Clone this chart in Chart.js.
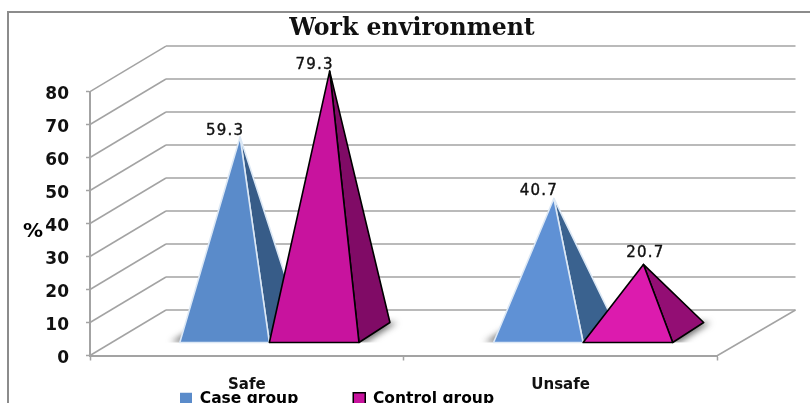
<!DOCTYPE html>
<html>
<head>
<meta charset="utf-8">
<title>Work environment</title>
<script src="https://cdn.jsdelivr.net/npm/chart.js"></script>
<style>
body { margin: 0; background: #fff; overflow: hidden; }
canvas { display: block; }
</style>
</head>
<body>
<canvas id="workChart" width="810" height="403"></canvas>
<script>
const categories = ['Safe', 'Unsafe'];
const seriesNames = ['Case group', 'Control group'];
const caseValues = [59.3, 40.7];
const controlValues = [79.3, 20.7];
const yTicks = [0, 10, 20, 30, 40, 50, 60, 70, 80];

const caseFront = ['#5a8bca', '#5f91d5'];
const caseSide = ['#375c88', '#3a628f'];
const controlFront = ['#c8139e', '#dc1bae'];
const controlSide = ['#800b66', '#930e74'];

// 3d box of the plot, in px from the front plane
const wallX = 76;
const wallY = 45.5;
const gridColor = '#a3a3a3';

function line(ctx, x1, y1, x2, y2) {
    ctx.beginPath();
    ctx.moveTo(x1, y1);
    ctx.lineTo(x2, y2);
    ctx.stroke();
}

function poly(ctx, pts, fill, stroke, width) {
    ctx.beginPath();
    ctx.moveTo(pts[0][0], pts[0][1]);
    for (let i = 1; i < pts.length; i++) {
        ctx.lineTo(pts[i][0], pts[i][1]);
    }
    ctx.closePath();
    ctx.fillStyle = fill;
    ctx.fill();
    if (width > 0) {
        ctx.lineJoin = 'round';
        ctx.strokeStyle = stroke;
        ctx.lineWidth = width;
        ctx.stroke();
    }
}

// the frame and the back walls
const wallsPlugin = {
    id: 'walls',
    beforeDraw(chart) {
        // title and legend do not sit centred on the canvas in the original
        chart.titleBlock.left = 7;
        chart.titleBlock.right = 817;
        chart.legend.left = 0;
        chart.legend.right = 674;
        chart.legend.top = 391 - 55;
    },
    beforeDatasetsDraw(chart) {
        let ctx = chart.ctx;
        let x = chart.scales.x;
        let y = chart.scales.y;

        ctx.save();
        ctx.strokeStyle = '#8c8c8c';
        ctx.lineWidth = 2;
        ctx.beginPath();
        ctx.moveTo(8, 403);
        ctx.lineTo(8, 12);
        ctx.lineTo(810, 12);
        ctx.stroke();

        ctx.strokeStyle = gridColor;
        ctx.lineWidth = 1.5;
        yTicks.forEach(function(tick) {
            let py = y.getPixelForValue(tick);
            line(ctx, x.left, py, x.left + wallX, py - wallY);
            line(ctx, x.left + wallX, py - wallY, x.right + wallX + 2, py - wallY);
        });
        let py0 = y.getPixelForValue(0);
        line(ctx, x.right, py0, x.right + wallX + 2, py0 - wallY);
        ctx.restore();
    },
    afterDraw(chart) {
        let ctx = chart.ctx;
        ctx.save();
        ctx.fillStyle = '#000';
        ctx.font = 'bold 20px "DejaVu Sans"';
        ctx.textAlign = 'center';
        ctx.textBaseline = 'middle';
        ctx.fillText('%', 33, 232);
        ctx.restore();
    }
};

// label shift from the tip of each pyramid, dataset by category
const labelShift = [
    [[-15, -6], [-15, -7]],
    [[-15, -6], [2, -11]]
];

const pyramidPlugin = {
    id: 'pyramids',
    afterDatasetsDraw(chart) {
        let ctx = chart.ctx;
        ctx.save();

        chart.data.datasets.forEach(function(dataset, d) {
            let meta = chart.getDatasetMeta(d);
            meta.data.forEach(function(bar, i) {
                let left = bar.x - bar.width / 2;
                let right = bar.x + bar.width / 2;
                let frontY = bar.base - 12.5;
                let a = [left + 22.5, frontY];
                let b = [right + 22.5, frontY];
                let c = [right + 53.5, frontY - 20];
                let tip = [bar.x + 38, bar.y - 22.75];
                let edge = d === 0 ? '#dce8f5' : '#000';

                // shadow on the floor, never in front of the base
                ctx.save();
                ctx.beginPath();
                ctx.rect(left, frontY - 30, bar.width + 90, 30);
                ctx.clip();
                ctx.shadowColor = 'rgba(40,40,40,0.65)';
                ctx.shadowBlur = 6;
                ctx.shadowOffsetX = d === 0 ? -9 : 7;
                ctx.shadowOffsetY = 0;
                poly(ctx, [a, b, c, [left + 53.5, frontY - 20]], '#fff', '#fff', 0);
                ctx.restore();

                poly(ctx, [b, c, tip], dataset.sideColors[i], edge, 1.6);
                poly(ctx, [a, b, tip], dataset.frontColors[i], edge, 1.6);
            });
        });

        ctx.fillStyle = '#111';
        ctx.strokeStyle = '#111';
        ctx.lineWidth = 0.4;
        ctx.font = '15px "DejaVu Sans"';
        ctx.letterSpacing = '1.2px';
        ctx.textAlign = 'center';
        ctx.textBaseline = 'middle';
        chart.data.datasets.forEach(function(dataset, d) {
            chart.getDatasetMeta(d).data.forEach(function(bar, i) {
                let shift = labelShift[d][i];
                let label = dataset.data[i].toFixed(1);
                let lx = bar.x + 38 + shift[0];
                let ly = bar.y - 22.75 + shift[1];
                ctx.fillText(label, lx, ly);
                ctx.strokeText(label, lx, ly);
            });
        });
        ctx.restore();
    }
};

new Chart(document.querySelector('#workChart').getContext('2d'), {
    type: 'bar',
    data: {
        labels: categories,
        datasets: [{
            label: seriesNames[0],
            data: caseValues,
            backgroundColor: 'transparent',
            frontColors: caseFront,
            sideColors: caseSide
        }, {
            label: seriesNames[1],
            data: controlValues,
            backgroundColor: 'transparent',
            frontColors: controlFront,
            sideColors: controlSide
        }]
    },
    options: {
        responsive: false,
        animation: false,
        layout: { padding: { top: 0, left: 0, right: 92.5, bottom: 0 } },
        categoryPercentage: 0.571,
        barPercentage: 1,
        scales: {
            x: {
                afterFit(scale) { scale.height = 47.5; },
                grid: { drawOnChartArea: false, tickLength: 5, tickColor: gridColor, tickWidth: 1.5 },
                border: { color: gridColor, width: 2 },
                ticks: {
                    color: '#111',
                    padding: 16,
                    maxRotation: 0,
                    font: { family: '"DejaVu Sans"', size: 15, weight: 'bold' }
                }
            },
            y: {
                min: 0,
                max: 80,
                afterFit(scale) { scale.width = 90; },
                grid: { drawOnChartArea: false, tickLength: 4, tickColor: gridColor, tickWidth: 1.5 },
                border: { color: gridColor, width: 2 },
                ticks: {
                    stepSize: 10,
                    color: '#111',
                    padding: 17,
                    labelOffset: 3,
                    font: { family: '"DejaVu Sans"', size: 17, weight: 'bold' }
                }
            }
        },
        plugins: {
            tooltip: { enabled: false },
            title: {
                display: true,
                text: 'Work environment',
                color: '#111',
                font: { family: '"DejaVu Serif"', size: 23.6, weight: 'bold', lineHeight: 1.2 },
                padding: { top: 14.5, bottom: 48.7 }
            },
            legend: {
                display: true,
                position: 'bottom',
                labels: {
                    boxWidth: 12,
                    boxHeight: 12,
                    padding: 55,
                    color: '#111',
                    font: { family: '"DejaVu Sans"', size: 15.5, weight: 'bold' },
                    generateLabels() {
                        return [
                            { text: seriesNames[0], fillStyle: caseFront[0], strokeStyle: caseFront[0], lineWidth: 0 },
                            { text: seriesNames[1], fillStyle: controlFront[0], strokeStyle: '#000', lineWidth: 1.5 }
                        ];
                    }
                }
            }
        }
    },
    plugins: [{
        id: 'legendNoSpace',
        beforeInit(chart) {
            let fit = chart.legend.fit;
            chart.legend.fit = function() {
                fit.call(this);
                this.height = 0;
            };
        }
    }, wallsPlugin, pyramidPlugin]
});
</script>
</body>
</html>
